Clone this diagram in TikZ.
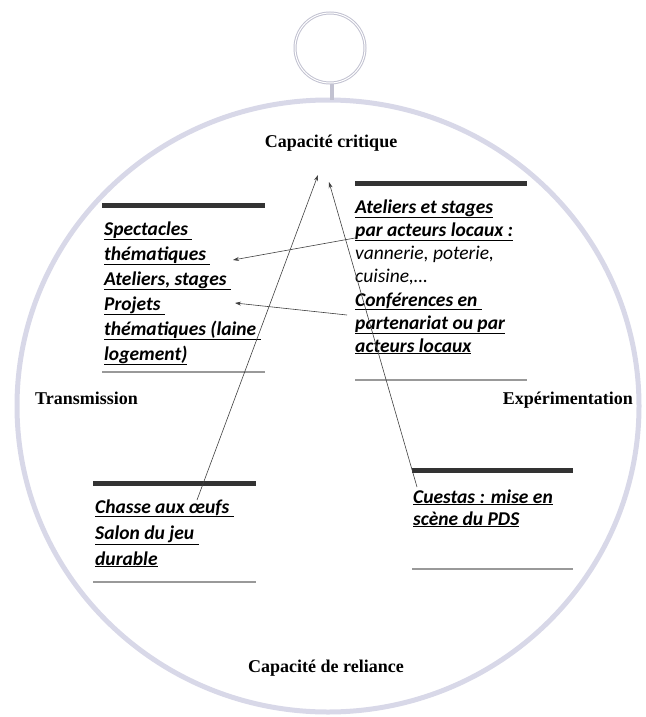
\documentclass[tikz,border=0pt]{standalone}
\usepackage{fontspec}
\setmainfont{Liberation Serif}
\newfontfamily\calib{Carlito}
\usetikzlibrary{arrows.meta}
\usetikzlibrary{positioning}
\newcommand{\souligne}[1]{\underline{#1}}
\definecolor{medal}{RGB}{216,216,232}

\begin{document}
\begin{tikzpicture}[x=1pt, y=-1pt,
	lbl/.style={font=\fontsize{18}{22}\selectfont\bfseries, inner sep=0pt, anchor=base},
	itm/.style={font=\calib\fontsize{19.5}{23}\selectfont\bfseries\itshape, inner sep=0pt, anchor=base west},
	plain/.style={font=\calib\fontsize{19.5}{23}\selectfont\itshape, inner sep=0pt, anchor=base west},
	bar/.style={line width=5pt, draw=black!80},
	rule/.style={line width=1.4pt, draw=black!40},
	fl/.style={-{Stealth[length=6pt, width=4pt]}, draw=black!75, line width=0.6pt}]
	\useasboundingbox (0,0) rectangle (645,717);
	% medal and ring
	\draw[draw=medal, line width=5pt] (328,406) ellipse (311pt and 306pt);
	\draw[draw=medal!90!black, line width=3pt] (330,48) circle (35pt);
	\draw[draw=white, line width=1pt] (330,48) circle (35pt);
	\draw[draw=medal!90!black, line width=4pt] (332,84) -- (332,100);
	% axis labels
	\node[lbl] (cc) at (331,147) {Capacité critique};
	\node[lbl] (cr) at (326,672) {Capacité de reliance};
	\node[lbl, anchor=base west] (tm) at (35,404) {Transmission};
	\node[lbl, anchor=base east] (xp) at (633,404) {Expérimentation};
	% transmission block
	\draw[bar] (102,205) -- (265,205);
	\node[itm] (t1) at (104,235) {\souligne{Spectacles }};
	\node[itm] (t2) at (104,260) {\souligne{thématiques }};
	\node[itm] (t3) at (104,285) {\souligne{Ateliers, stages }};
	\node[itm] (t4) at (104,310) {\souligne{Projets }};
	\node[itm] (t5) at (104,335) {\souligne{thématiques (laine }};
	\node[itm] (t6) at (104,360) {\souligne{logement)}};
	\draw[rule] (102,372) -- (265,372);
	% experimentation block
	\draw[bar] (355,183) -- (527,183);
	\node[itm] (e1) at (355,213) {\souligne{Ateliers et stages}};
	\node[itm] (e2) at (355,236) {\souligne{par acteurs locaux :}};
	\node[plain] (e3) at (355,259) {vannerie, poterie,};
	\node[plain] (e4) at (355,282) {cuisine,\dots};
	\node[itm] (e5) at (355,306) {\souligne{Conférences en }};
	\node[itm] (e6) at (355,329) {\souligne{partenariat ou par}};
	\node[itm] (e7) at (355,352) {\souligne{acteurs locaux}};
	\draw[rule] (355,380) -- (527,380);
	% reliance left
	\draw[bar] (93,483) -- (256,483);
	\node[itm] (r1) at (95,513) {\souligne{Chasse aux {\oe}ufs }};
	\node[itm] (r2) at (95,539) {\souligne{Salon du jeu }};
	\node[itm] (r3) at (95,565) {\souligne{durable}};
	\draw[rule] (93,582) -- (256,582);
	% reliance right
	\draw[bar] (412,470) -- (573,470);
	\node[itm] (q1) at (413,503) {\souligne{Cuestas : mise en}};
	\node[itm] (q2) at (413,525) {\souligne{scène du PDS}};
	\draw[rule] (412,569) -- (573,569);
	% arrows
	\coordinate (a1) at (197,500);
	\coordinate (b1) at (318,175);
	\coordinate (a2) at (417,487);
	\coordinate (b2) at (329,182);
	\coordinate (a3) at (355,238);
	\coordinate (b3) at (233,260);
	\coordinate (a4) at (347,315);
	\coordinate (b4) at (235,303);
	\draw[fl] (a1) -- (b1);
	\draw[fl] (a2) -- (b2);
	\draw[fl] (a3) -- (b3);
	\draw[fl] (a4) -- (b4);
\end{tikzpicture}
\end{document}
